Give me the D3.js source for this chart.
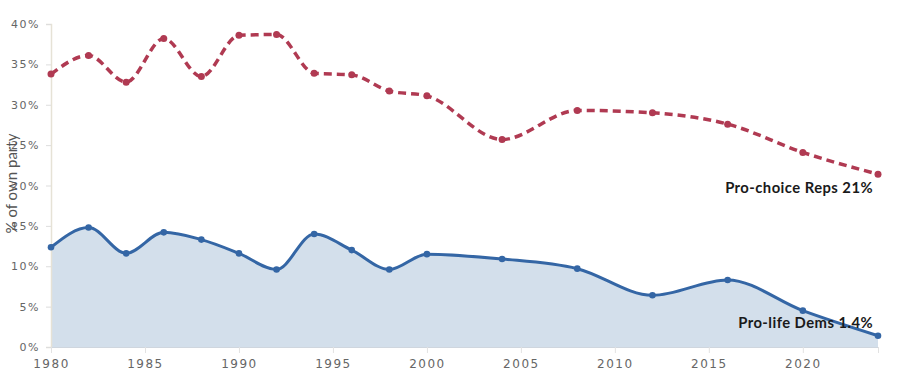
<!DOCTYPE html>
<html>
<head>
<meta charset="utf-8">
<script src="https://cdn.jsdelivr.net/npm/d3@7"></script>
<style>
  html, body { margin: 0; padding: 0; background: #fff; }
  svg { display: block; }
  .tick text { font-family: "DejaVu Sans", sans-serif; fill: #666; letter-spacing: 1.5px; }
</style>
</head>
<body>
<svg id="chart" width="900" height="389"></svg>
<script>
const years = [1980, 1982, 1984, 1986, 1988, 1990, 1992, 1994, 1996, 1998, 2000, 2004, 2008, 2012, 2016, 2020, 2024];
const proChoiceReps = [33.8, 36.1, 32.8, 38.2, 33.5, 38.6, 38.7, 33.9, 33.7, 31.7, 31.1, 25.7, 29.3, 29.0, 27.6, 24.1, 21.4];
const proLifeDems = [12.35, 14.8, 11.6, 14.2, 13.3, 11.6, 9.6, 14.0, 12.0, 9.6, 11.5, 10.9, 9.7, 6.4, 8.3, 4.5, 1.4];
const xTicks = [1980, 1985, 1990, 1995, 2000, 2005, 2010, 2015, 2020];
const yTicks = [0, 5, 10, 15, 20, 25, 30, 35, 40];
const labelReps = "Pro-choice Reps 21%";
const labelDems = "Pro-life Dems 1.4%";
const yTitle = "% of own party";

const svg = d3.select("#chart");
const margin = { left: 51, right: 22, top: 24, bottom: 42 };
const W = 900, H = 389;
const x = d3.scaleLinear().domain([1980, 2024]).range([margin.left, W - margin.right]);
const y = d3.scaleLinear().domain([0, 40]).range([H - margin.bottom, margin.top]);

const red = "#b03a52", blue = "#3466a5";
const dems = years.map((yr, i) => ({ yr, v: proLifeDems[i] }));
const reps = years.map((yr, i) => ({ yr, v: proChoiceReps[i] }));

// area
const area = d3.area().x(d => x(d.yr)).y0(y(0)).y1(d => y(d.v)).curve(d3.curveMonotoneX);
svg.append("path").datum(dems).attr("d", area).attr("fill", "#d3dfeb");

// y axis
const yAxis = svg.append("g").attr("transform", `translate(${margin.left},0)`)
  .call(d3.axisLeft(y).tickValues(yTicks).tickFormat(d => d + "%").tickSize(5).tickPadding(6));
yAxis.select(".domain").attr("stroke", "#e6e2d6").attr("stroke-width", 1.5);
yAxis.selectAll(".tick line").attr("stroke", "#ddd");
yAxis.selectAll(".tick text").attr("font-size", 11);

// x axis
const xAxis = svg.append("g").attr("transform", `translate(0,${y(0)})`)
  .call(d3.axisBottom(x).tickValues(xTicks.concat([2024])).tickFormat(d => xTicks.includes(d) ? d : "").tickSize(6).tickPadding(6));
xAxis.select(".domain").attr("stroke", "#cfd6de");
xAxis.selectAll(".tick line").attr("stroke", "#e2e2e2");
xAxis.selectAll(".tick text").attr("font-size", 12).attr("fill", "#555");

// y title
svg.append("text")
  .attr("transform", `translate(17,${(margin.top + H - margin.bottom) / 2 - 2}) rotate(-90)`)
  .attr("text-anchor", "middle")
  .attr("font-family", "Lato, sans-serif").attr("font-size", 15).attr("fill", "#555")
  .text(yTitle);

const line = d3.line().x(d => x(d.yr)).y(d => y(d.v)).curve(d3.curveMonotoneX);

svg.append("path").datum(dems).attr("d", line).attr("fill", "none")
  .attr("stroke", blue).attr("stroke-width", 3);
svg.selectAll(".pd").data(dems).enter().append("circle")
  .attr("cx", d => x(d.yr)).attr("cy", d => y(d.v)).attr("r", 3.3).attr("fill", blue);

svg.append("path").datum(reps).attr("d", line).attr("fill", "none")
  .attr("stroke", red).attr("stroke-width", 3.5).attr("stroke-dasharray", "8,5");
svg.selectAll(".pr").data(reps).enter().append("circle")
  .attr("cx", d => x(d.yr)).attr("cy", d => y(d.v)).attr("r", 3.5).attr("fill", red);

// labels
svg.append("text").attr("x", x(2024) - 5).attr("y", y(proChoiceReps[16]) + 19)
  .attr("text-anchor", "end").attr("font-family", "Lato, sans-serif").attr("font-weight", "bold")
  .attr("font-size", 14.8).attr("letter-spacing", "0.45px").attr("fill", "#1a1a1a").text(labelReps);
svg.append("text").attr("x", x(2024) - 5).attr("y", y(proLifeDems[16]) - 8)
  .attr("text-anchor", "end").attr("font-family", "Lato, sans-serif").attr("font-weight", "bold")
  .attr("font-size", 14.8).attr("letter-spacing", "0.45px").attr("fill", "#1a1a1a").text(labelDems);
</script>
</body>
</html>
